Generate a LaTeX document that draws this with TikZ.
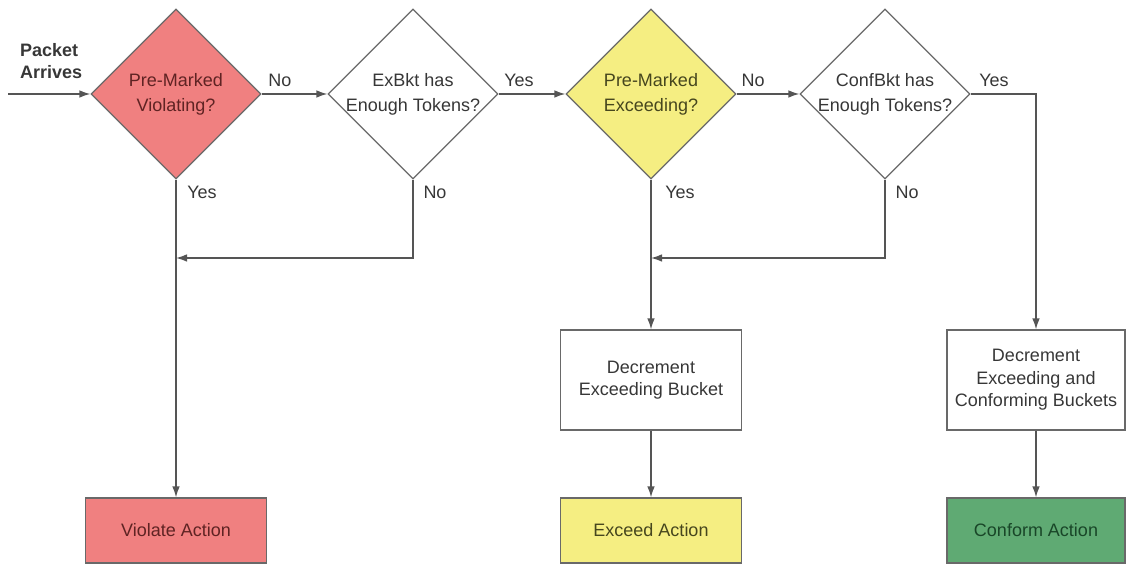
\documentclass[tikz,border=0pt]{standalone}
\usepackage{fontspec}
\setmainfont{Liberation Sans}
\usetikzlibrary{shapes.geometric,arrows.meta}
\definecolor{violred}{RGB}{240,128,128}
\definecolor{exyellow}{RGB}{245,238,130}
\definecolor{confgreen}{RGB}{95,170,115}
\definecolor{edgegray}{RGB}{105,105,105}
\definecolor{linegray}{RGB}{85,85,85}
\definecolor{textgray}{RGB}{55,55,55}
\definecolor{redtext}{RGB}{95,35,35}
\definecolor{yeltext}{RGB}{70,70,30}
\definecolor{grntext}{RGB}{25,70,40}
\tikzset{
	decision/.style={diamond,aspect=1,draw=edgegray,line width=0.6pt,minimum width=85pt,minimum height=85pt,inner sep=0pt,text=textgray,font=\fontsize{9}{12.5}\selectfont},
	stepbox/.style={rectangle,draw=edgegray,line width=0.6pt,minimum width=90.5pt,inner sep=0pt,align=center,text=textgray,font=\fontsize{9}{11.2}\selectfont},
	flow/.style={draw=linegray,line width=0.7pt,-{Latex[length=5.5pt,width=3.8pt]}},
	answer/.style={text=textgray,font=\fontsize{9}{11}\selectfont}
}
\newcommand{\dtext}[2]{\makebox[0pt]{\begin{tabular}{@{}c@{}}#1\\#2\end{tabular}}}

\begin{document}
\begin{tikzpicture}[x=0.5pt,y=-0.5pt]
			\useasboundingbox (0,0) rectangle (1135,565);
			\node[anchor=west,align=left,text=textgray,font=\bfseries\fontsize{9}{11}\selectfont] (arrive) at (13,61) {Packet\\Arrives};
			\coordinate (in) at (8,94);
			\node[decision,fill=violred,text=redtext] (d1) at (176,94) {\dtext{Pre-Marked}{Violating?}};
			\node[decision,fill=white] (d2) at (413,94) {\dtext{ExBkt has}{Enough Tokens?}};
			\node[decision,fill=exyellow,text=yeltext] (d3) at (651,94) {\dtext{Pre-Marked}{Exceeding?}};
			\node[decision,fill=white] (d4) at (885,94) {\dtext{ConfBkt has}{Enough Tokens?}};
			\node[stepbox,minimum height=50pt] (deb) at (651,380) {Decrement\\Exceeding Bucket};
			\node[stepbox,minimum height=50pt,minimum width=89pt] (decb) at (1036,380) {Decrement\\Exceeding and\\Conforming Buckets};
			\node[stepbox,minimum height=32.5pt,fill=violred,text=redtext] (va) at (176,530.5) {Violate Action};
			\node[stepbox,minimum height=32.5pt,fill=exyellow,text=yeltext] (ea) at (651,530.5) {Exceed Action};
			\node[stepbox,minimum height=32.5pt,minimum width=89pt,fill=confgreen,text=grntext] (ca) at (1036,530.5) {Conform Action};
			\coordinate (m1) at (176,258);
			\coordinate (m2) at (651,258);
			\draw[flow] (in) -- (d1);
			\draw[flow] (d1) -- (d2);
			\draw[flow] (d2) -- (d3);
			\draw[flow] (d3) -- (d4);
			\draw[flow] (d1) -- (va);
			\draw[flow] (d2.south) |- (m1);
			\draw[flow] (d3) -- (deb);
			\draw[flow] (d4.south) |- (m2);
			\draw[flow] (d4.east) -| (decb.north);
			\draw[flow] (deb) -- (ea);
			\draw[flow] (decb) -- (ca);
			\foreach \x/\y/\t [count=\i] in {280/80/No,519/80/Yes,753/80/No,994/80/Yes,202/192/Yes,435/192/No,680/192/Yes,907/192/No}{
				\node[answer] (lbl\i) at (\x,\y) {\t};
			}
		\end{tikzpicture}
\end{document}
